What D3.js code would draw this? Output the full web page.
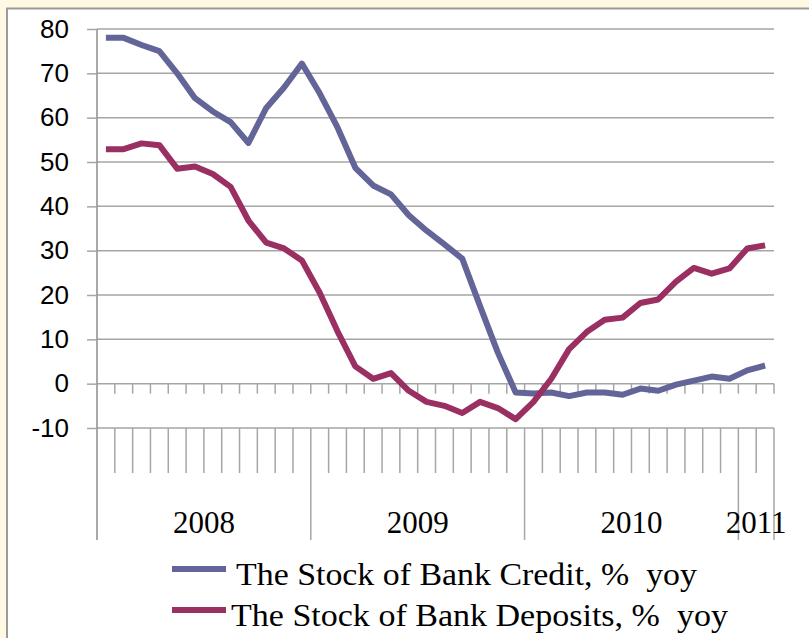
<!DOCTYPE html>
<html>
<head>
<meta charset="utf-8">
<script src="https://cdn.jsdelivr.net/npm/d3@7"></script>
<style>
  body { margin: 0; background: #fff8e3; }
  svg { display: block; }
</style>
</head>
<body>
<svg id="chart" width="809" height="638"></svg>
<script>
// maanden jan 2008 t/m feb 2011
var months = ["2008-01", "2008-02", "2008-03", "2008-04", "2008-05", "2008-06", "2008-07", "2008-08", "2008-09", "2008-10", "2008-11", "2008-12",
    "2009-01", "2009-02", "2009-03", "2009-04", "2009-05", "2009-06", "2009-07", "2009-08", "2009-09", "2009-10", "2009-11", "2009-12",
    "2010-01", "2010-02", "2010-03", "2010-04", "2010-05", "2010-06", "2010-07", "2010-08", "2010-09", "2010-10", "2010-11", "2010-12",
    "2011-01", "2011-02"];
var years = ["2008", "2009", "2010", "2011"];
var credit = [78, 78, 76.4, 75, 70, 64.4, 61.4, 59, 54.3, 62.2, 66.8, 72.2,
    65.5, 57.8, 48.7, 44.7, 42.7, 38, 34.5, 31.4, 28.2, 17.5, 7, -2,
    -2.2, -2, -2.8, -2, -2, -2.5, -1.1, -1.6, -0.2, 0.7, 1.6, 1.1, 3, 4.1];
var deposits = [52.9, 52.9, 54.2, 53.8, 48.5, 49, 47.3, 44.4, 36.8, 31.8, 30.5, 27.8,
    20.5, 11.8, 3.9, 1.1, 2.4, -1.6, -4.1, -5, -6.6, -4.1, -5.5, -8,
    -4.1, 1.1, 7.8, 11.7, 14.4, 14.9, 18.2, 19, 23, 26.1, 24.8, 26, 30.5, 31.2];
var yTicks = [-10, 0, 10, 20, 30, 40, 50, 60, 70, 80];
var seriesNames = ["The Stock of Bank Credit, % yoy", "The Stock of Bank Deposits, % yoy"];
var colors = ["#636598", "#9a2f62"];

var svg = d3.select("#chart");
var plotLeft = 97, plotRight = 774, plotTop = 29, plotBottom = 428;

// witte plotvlak met grijze rand
svg.append("rect")
    .attr("x", 7).attr("y", 8.5).attr("width", 830).attr("height", 660)
    .attr("fill", "#fff").attr("stroke", "#9b9b9b").attr("stroke-width", 2);

var x = d3.scaleBand().domain(months).range([plotLeft, plotRight]).padding(0);
var y = d3.scaleLinear().domain([-10, 80]).range([plotBottom, plotTop]);
var bw = x.bandwidth();

// horizontale rasterlijnen
svg.append("g").selectAll("line")
    .data(yTicks)
    .enter().append("line")
    .attr("x1", plotLeft).attr("x2", plotRight)
    .attr("y1", d => y(d)).attr("y2", d => y(d))
    .attr("stroke", "#a6a6a6").attr("stroke-width", 1.5);

// y-as (gewoon streepje als minteken, zoals in Excel)
var yAxis = svg.append("g")
    .attr("transform", "translate(" + plotLeft + ",0)")
    .call(d3.axisLeft(y).tickValues(yTicks).tickSize(10).tickPadding(18).tickFormat(d => String(d)));
yAxis.select(".domain").attr("stroke", "#8c8c8c").attr("stroke-width", 1.5)
    .attr("d", "M0," + plotTop + "V540");
yAxis.selectAll(".tick line").attr("stroke", "#a6a6a6").attr("stroke-width", 1.5);
yAxis.selectAll(".tick text")
    .attr("font-family", "'Liberation Sans', Arial, sans-serif")
    .attr("font-size", 26).attr("fill", "#000");

// grenzen tussen de maanden
var bounds = months.map(m => x(m)).slice(1).concat([plotRight]);
var yearStart = months.map((m, i) => i).filter(i => i > 0 && months[i].slice(0, 4) !== months[i - 1].slice(0, 4));
var yearBounds = yearStart.map(i => x(months[i])).concat([plotRight]);

svg.append("g").selectAll("line")
    .data(bounds)
    .enter().append("line")
    .attr("x1", d => d).attr("x2", d => d)
    .attr("y1", y(0)).attr("y2", y(0) + 10)
    .attr("stroke", "#a6a6a6").attr("stroke-width", 1.5);

svg.append("g").selectAll("line")
    .data(bounds)
    .enter().append("line")
    .attr("x1", d => d).attr("x2", d => d)
    .attr("y1", plotBottom).attr("y2", d => yearBounds.some(b => Math.abs(b - d) < 0.1) ? 540 : 473)
    .attr("stroke", "#a6a6a6").attr("stroke-width", 1.5);

// jaartallen
svg.append("g").selectAll("text")
    .data(years)
    .enter().append("text")
    .attr("x", function(yr) {
        let ms = months.filter(m => m.slice(0, 4) === yr);
        return (x(ms[0]) + x(ms[ms.length - 1]) + bw) / 2;
    })
    .attr("y", 533)
    .attr("text-anchor", "middle")
    .attr("font-family", "'Liberation Serif', 'Times New Roman', serif")
    .attr("font-size", 31)
    .text(d => d);

// lijnen
var line = d3.line()
    .x((d, i) => x(months[i]) + bw / 2)
    .y(d => y(d));

[credit, deposits].forEach(function(serie, k) {
    svg.append("path")
        .datum(serie)
        .attr("d", line)
        .attr("fill", "none")
        .attr("stroke", colors[k])
        .attr("stroke-width", 6)
        .attr("stroke-linejoin", "round");
});

// legenda
var legendY = [569, 610];
var legendTextX = [236, 231];
var legendTextW = [461, 497];
seriesNames.forEach(function(name, k) {
    svg.append("line")
        .attr("x1", 172).attr("x2", 226)
        .attr("y1", legendY[k]).attr("y2", legendY[k])
        .attr("stroke", colors[k]).attr("stroke-width", 6);
    svg.append("text")
        .attr("x", legendTextX[k]).attr("y", legendY[k] + 16)
        .attr("font-family", "'Liberation Serif', 'Times New Roman', serif")
        .attr("font-size", 31)
        .attr("textLength", legendTextW[k])
        .attr("lengthAdjust", "spacingAndGlyphs")
        .style("white-space", "pre")
        .text(name.replace("% yoy", "%  yoy"));
});
</script>
</body>
</html>
